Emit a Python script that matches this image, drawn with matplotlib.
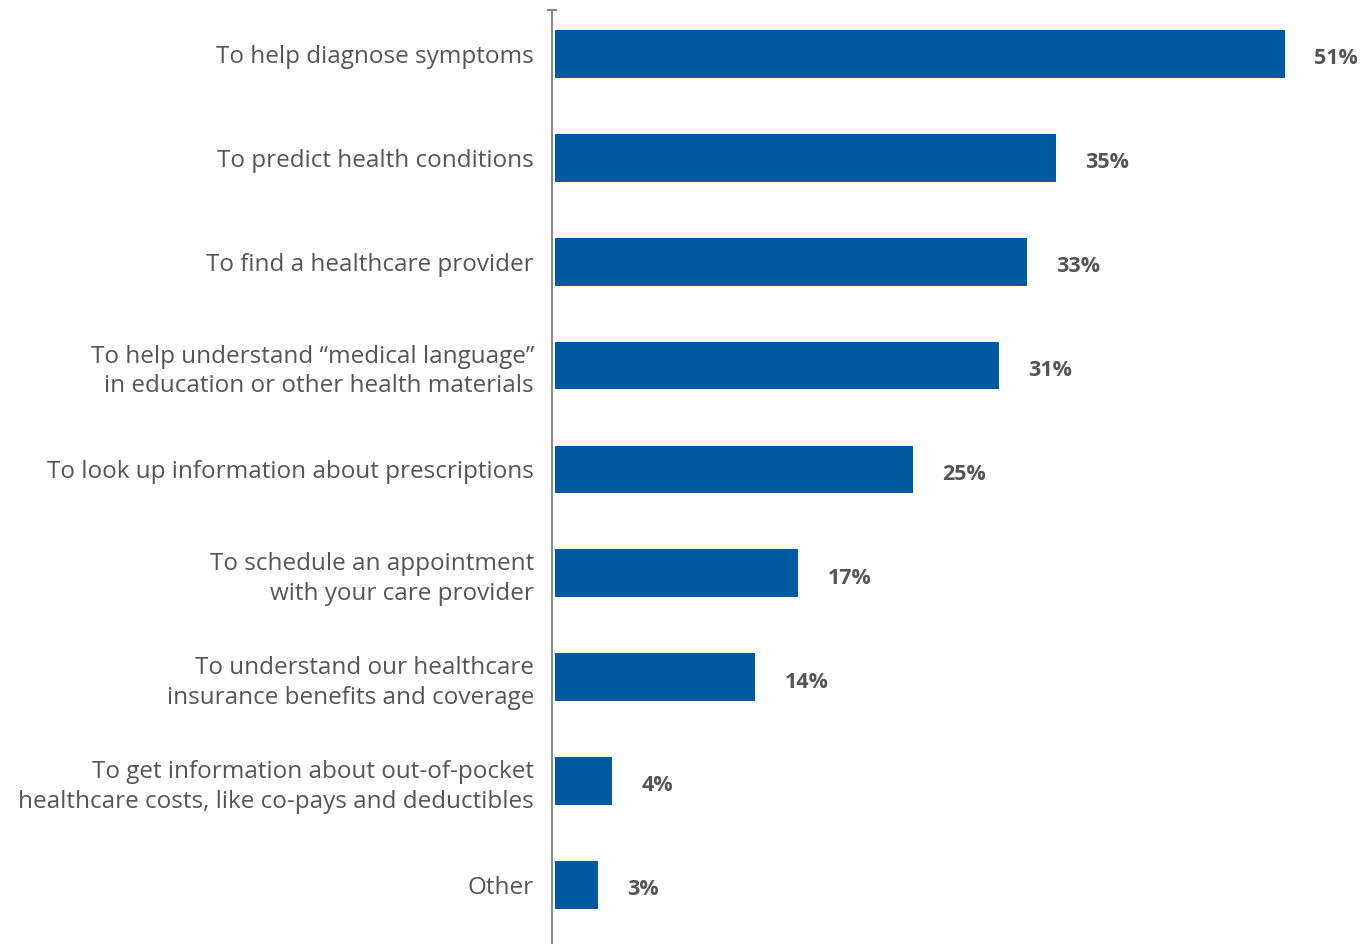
import matplotlib
matplotlib.use('Agg')
import matplotlib.pyplot as plt

plt.rcParams['font.family'] = ['Open Sans', 'DejaVu Sans']

categories = [
    'To help diagnose symptoms',
    'To predict health conditions',
    'To find a healthcare provider',
    'To help understand \u201cmedical language\u201d\nin education or other health materials',
    'To look up information about prescriptions',
    'To schedule an appointment\nwith your care provider',
    'To understand our healthcare\ninsurance benefits and coverage',
    'To get information about out-of-pocket\nhealthcare costs, like co-pays and deductibles',
    'Other',
]
shares = [51, 35, 33, 31, 25, 17, 14, 4, 3]

bar_color = '#0059A1'
text_color = '#555555'
axis_color = '#8a8a8a'

fig = plt.figure(figsize=(13.65, 9.44), dpi=100)
ax = fig.add_axes([552 / 1365, 0, 813 / 1365, 934 / 944])

ypos = list(range(len(categories)))
ax.barh(ypos, shares, height=0.46, color=bar_color, left=0)

for y, v in zip(ypos, shares):
    ax.annotate(f'{v}%', (v, y), xytext=(21, -3.5), textcoords='offset points',
                ha='left', va='center', fontsize=15.5, fontweight='bold',
                color=text_color)

ax.set_xlim(-0.21, 56.6)
ax.set_ylim(len(categories) - 1 + 0.568, -0.423)

ax.set_yticks(ypos)
ax.set_yticklabels(categories, fontsize=17.5, color=text_color, linespacing=1.3)
ax.tick_params(axis='y', length=0, pad=13)
ax.set_xticks([])

for s in ['top', 'right', 'bottom']:
    ax.spines[s].set_visible(False)
ax.spines['left'].set_color(axis_color)
ax.spines['left'].set_linewidth(1.5)

# small cap at the top of the axis line
ax.plot([0], [1], marker='_', markersize=7, markeredgewidth=1.5,
        color=axis_color, transform=ax.transAxes, clip_on=False)

fig.savefig('out.png', dpi=100)
